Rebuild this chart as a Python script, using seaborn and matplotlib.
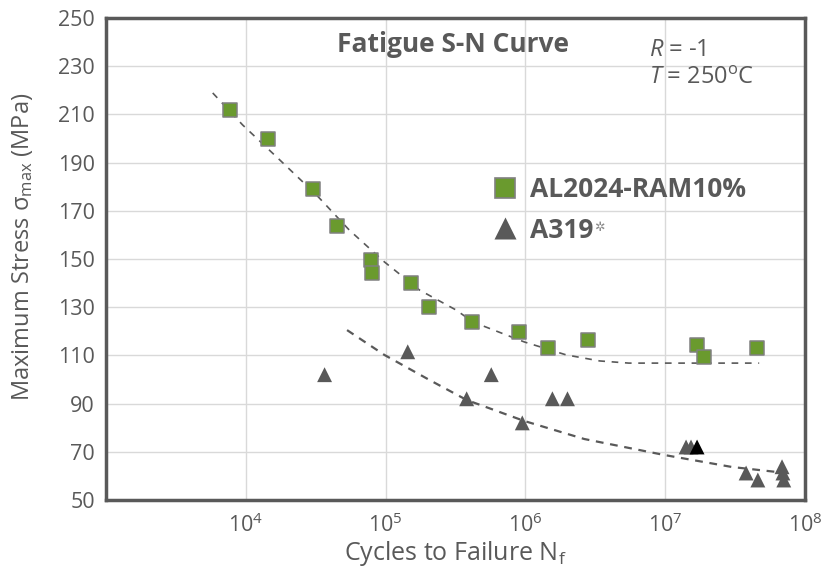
import numpy as np
import pandas as pd
import matplotlib
matplotlib.use("Agg")
import matplotlib.pyplot as plt
from matplotlib.lines import Line2D
import seaborn as sns

# ---- data ----
al_cycles = [7.7e3, 1.44e4, 3.0e4, 4.5e4, 7.8e4, 7.95e4, 1.51e5, 2.06e5, 4.18e5,
             9.06e5, 1.46e6, 2.82e6, 1.69e7, 1.90e7, 4.54e7]
al_stress = [212, 200, 179, 163.5, 149.5, 144, 140, 130, 124, 119.7, 113, 116.5,
             114.5, 109.5, 113]

a319_cycles = [3.66e4, 1.44e5, 5.7e5, 3.8e5, 1.56e6, 2.0e6, 9.5e5, 1.41e7, 1.53e7,
               3.79e7, 4.6e7, 6.85e7, 6.95e7, 7.05e7]
a319_stress = [102, 111.5, 102, 92, 92, 92, 82, 72, 72, 61.2, 58.3, 63.8, 61.2, 58.3]

a319_black_cycles = [1.69e7]
a319_black_stress = [72]

# dashed trend curves
al_trend_cycles = [5.8e3, 9.5e3, 1.75e4, 3.2e4, 5.5e4, 9.8e4, 1.75e5, 3.2e5, 4.2e5,
                   9.8e5, 1.96e6, 3.4e6, 5.5e6, 9.8e6, 4.7e7]
al_trend_stress = [218.9, 205.6, 191.1, 176.6, 162.0, 148.8, 137.1, 128.8, 123.9,
                   115.6, 110.2, 107.7, 106.8, 106.8, 106.8]

a319_trend_cycles = [5.3e4, 9.8e4, 2.06e5, 3.8e5, 9.8e5, 2.64e6, 9.8e6, 3.0e7, 7.3e7]
a319_trend_stress = [120.5, 110.2, 99.8, 91.5, 82.8, 75.3, 68.7, 63.7, 61.2]

y_ticks = [50, 70, 90, 110, 130, 150, 170, 190, 210, 230, 250]
x_ticks = [1e4, 1e5, 1e6, 1e7, 1e8]
x_tick_labels = [r"$10^{4}$", r"$10^{5}$", r"$10^{6}$", r"$10^{7}$", r"$10^{8}$"]

# ---- style ----
sns.set_style("white")
FONT = "Open Sans"
plt.rcParams["font.family"] = [FONT, "DejaVu Sans"]
plt.rcParams["mathtext.fontset"] = "custom"
plt.rcParams["mathtext.rm"] = FONT
plt.rcParams["mathtext.it"] = FONT + ":italic"
plt.rcParams["mathtext.bf"] = FONT + ":bold"
plt.rcParams["mathtext.default"] = "rm"

GRAY = "#595959"
GREEN = "#6a9a2e"
W, H = 825, 573

fig = plt.figure(figsize=(8.25, 5.73), dpi=100)
ax = fig.add_axes([106 / W, 1 - 500 / H, 699 / W, 482 / H])

al_df = pd.DataFrame({"N": al_cycles, "S": al_stress})
a319_df = pd.DataFrame({"N": a319_cycles, "S": a319_stress})
a319b_df = pd.DataFrame({"N": a319_black_cycles, "S": a319_black_stress})
al_tr = pd.DataFrame({"N": al_trend_cycles, "S": al_trend_stress})
a319_tr = pd.DataFrame({"N": a319_trend_cycles, "S": a319_trend_stress})

sns.lineplot(data=al_tr, x="N", y="S", ax=ax, color=GRAY, lw=1.2, sort=False,
             linestyle=(0, (4, 4)), zorder=2)
sns.lineplot(data=a319_tr, x="N", y="S", ax=ax, color=GRAY, lw=1.6, sort=False,
             linestyle=(0, (3.5, 3)), zorder=2)

sns.scatterplot(data=al_df, x="N", y="S", ax=ax, marker="s", s=100, color=GREEN,
                edgecolor="#808080", linewidth=1.1, zorder=3)
sns.scatterplot(data=a319_df, x="N", y="S", ax=ax, marker="^", s=115, color=GRAY,
                edgecolor="none", zorder=3)
sns.scatterplot(data=a319b_df, x="N", y="S", ax=ax, marker="^", s=115, color="black",
                edgecolor="none", zorder=4)

ax.set_xscale("log")
ax.set_xlim(1e3, 1e8)
ax.set_ylim(50, 250)
ax.set_yticks(y_ticks)
ax.set_xticks(x_ticks)
ax.set_xticklabels(x_tick_labels)
ax.minorticks_off()
ax.grid(True, color="#d9d9d9", lw=1)
ax.set_axisbelow(True)
ax.tick_params(axis="both", length=0, labelsize=15.5, labelcolor=GRAY, pad=8)
ax.tick_params(axis="x", pad=10)

for sp in ax.spines.values():
    sp.set_visible(True)
    sp.set_color(GRAY)
    sp.set_linewidth(2.5)

ax.set_xlabel(r"Cycles to Failure N$_\mathrm{f}$", fontsize=18, color=GRAY)
ax.set_ylabel(r"Maximum Stress σ$_\mathrm{max}$ (MPa)", fontsize=17, color=GRAY)
ax.xaxis.set_label_coords(0.5, (500 - 553) / 482, transform=ax.transAxes)
ax.xaxis.label.set_va("center")
ax.yaxis.set_label_coords((23 - 106) / 699, (500 - 247) / 482, transform=ax.transAxes)
ax.yaxis.label.set_va("center")

ax.text((453 - 106) / 699, (500 - 45) / 482, "Fatigue S-N Curve", transform=ax.transAxes,
        ha="center", va="center", fontsize=19, fontweight="bold", color=GRAY)
ax.text((649 - 106) / 699, (500 - 50) / 482, r"$\it{R}$ = -1", transform=ax.transAxes,
        ha="left", va="center", fontsize=17, color=GRAY)
ax.text((649 - 106) / 699, (500 - 78) / 482, r"$\it{T}$ = 250$^\mathrm{o}$C",
        transform=ax.transAxes, ha="left", va="center", fontsize=17, color=GRAY)

handles = [
    Line2D([], [], marker="s", ls="none", markersize=14, markerfacecolor=GREEN,
           markeredgecolor="#808080", markeredgewidth=1.2),
    Line2D([], [], marker="^", ls="none", markersize=16, markerfacecolor=GRAY,
           markeredgecolor="none"),
]
LEG_FS = 19
leg = ax.legend(handles, ["AL2024-RAM10%", "A319"], loc="center left",
                bbox_to_anchor=((492 - 106) / 699, (500 - 210) / 482),
                frameon=False, borderpad=0, borderaxespad=0, handletextpad=0.5,
                labelspacing=0.5, handlelength=0.95,
                prop={"size": LEG_FS, "weight": "bold", "family": FONT})
for t in leg.get_texts():
    t.set_color(GRAY)

# place the y label so its centre sits where the reference has it
fig.canvas.draw()
lbl = ax.yaxis.label
bb = lbl.get_window_extent()
want_cy = H - 247
cur_cy = 0.5 * (bb.y0 + bb.y1)
ax.yaxis.set_label_coords((23 - 106) / 699, (500 - 247) / 482 + (want_cy - cur_cy) / 482,
                          transform=ax.transAxes)

fig.canvas.draw()
bb = leg.get_texts()[1].get_window_extent()
inv = fig.transFigure.inverted()
x1, y1 = inv.transform((bb.x1, bb.y1))
fig.text(x1 + 0.001, y1 - 0.008, "✲", fontsize=9, color="#8c8c8c",
         family=["DejaVu Sans"], ha="left", va="top")

fig.savefig("out.png", dpi=100, facecolor="white")
